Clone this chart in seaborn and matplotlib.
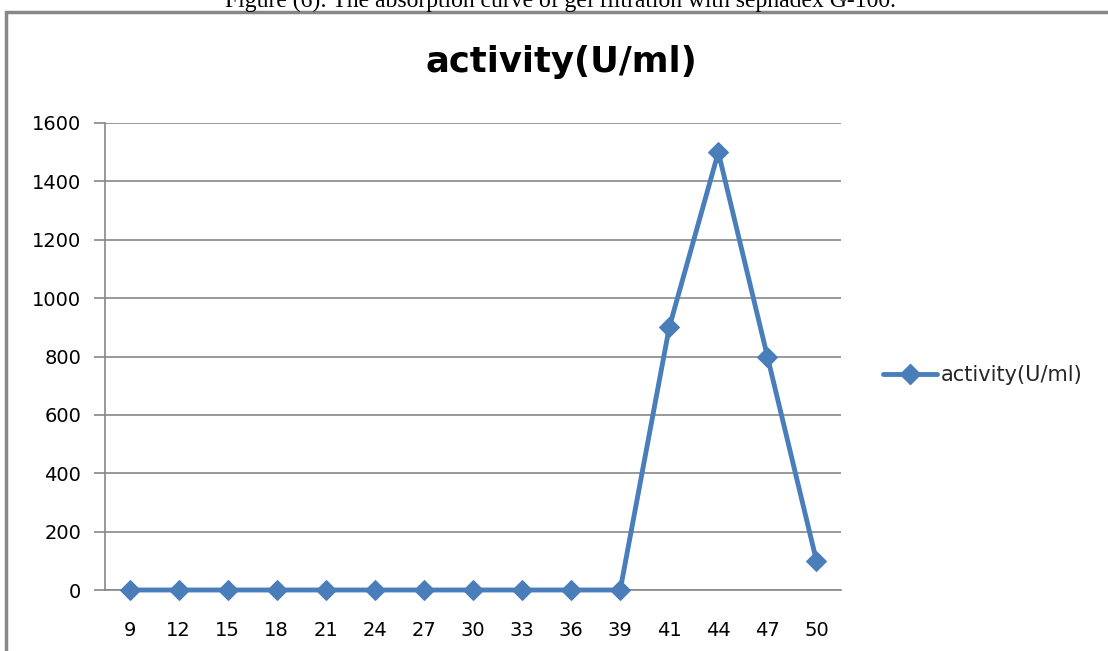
import matplotlib
matplotlib.use("Agg")
import matplotlib.pyplot as plt
import seaborn as sns
import pandas as pd
from matplotlib.patches import Rectangle
from matplotlib.lines import Line2D

fractions = ["9", "12", "15", "18", "21", "24", "27", "30", "33", "36", "39", "41", "44", "47", "50"]
activity = [0, 0, 0, 0, 0, 0, 0, 0, 0, 0, 0, 900, 1500, 800, 100]
yticks = [0, 200, 400, 600, 800, 1000, 1200, 1400, 1600]
series_name = "activity(U/ml)"
caption = "Figure (6): The absorption curve of gel filtration with sephadex G-100."

sns.set_theme(style="white")
plt.rcParams["font.family"] = ["DejaVu Sans"]

df = pd.DataFrame({"fraction": fractions, "activity": activity})

fig = plt.figure(figsize=(11.08, 6.51), dpi=100)
W, H = 1108, 651

# outer chart border
fig.patches.append(Rectangle((6 / W, -0.1), 1.2, 1.1 - 12 / H, transform=fig.transFigure,
                             fill=False, edgecolor="#878787", linewidth=2.5, zorder=0))
fig.text(560 / W, 1 - 1 / H, caption, ha="center", va="center", fontsize=17,
         family="Liberation Serif", color="black")

ax = fig.add_axes([105 / W, 1 - 590 / H, (841 - 105) / W, (590 - 123) / H])
color = "#4A7EBB"
sns.lineplot(data=df, x="fraction", y="activity", ax=ax, color=color, linewidth=3.5,
             marker="D", markersize=10, markeredgecolor=color, sort=False, legend=False,
             clip_on=False, zorder=5)

ax.set_xlim(-0.5, len(fractions) - 0.5)
ax.set_ylim(0, 1600)
ax.set_yticks(yticks)
ax.set_yticklabels([str(v) for v in yticks], fontsize=14, color="black")
ax.set_xticks(range(len(fractions)))
ax.set_xticklabels(fractions, fontsize=14, color="black")
ax.set_xticks([i - 0.5 for i in range(len(fractions) + 1)], minor=True)
ax.tick_params(axis="x", which="major", length=0, pad=22)
ax.tick_params(axis="x", which="minor", length=8, width=1.2, color="#878787", direction="out")
ax.tick_params(axis="y", length=8, width=1.2, color="#878787", direction="out", left=True, pad=9)
ax.set_xlabel("")
ax.set_ylabel("")
ax.grid(axis="y", color="#878787", linewidth=1.2)
ax.set_axisbelow(True)
for s in ["top", "right"]:
    ax.spines[s].set_visible(False)
for s in ["left", "bottom"]:
    ax.spines[s].set_color("#878787")
    ax.spines[s].set_linewidth(1.2)
    ax.spines[s].set_zorder(1)

fig.text(561 / W, 1 - 62 / H, series_name, ha="center", va="center", fontsize=25.5,
         fontweight="bold", color="black")

handle = Line2D([], [], color=color, linewidth=3.5, marker="D", markersize=10)
fig.legend([handle], [series_name], loc="center left", bbox_to_anchor=(864 / W, 1 - 375 / H),
           frameon=False, fontsize=15, handlelength=2.6, handletextpad=0.2)

fig.savefig("out.png", dpi=100)
